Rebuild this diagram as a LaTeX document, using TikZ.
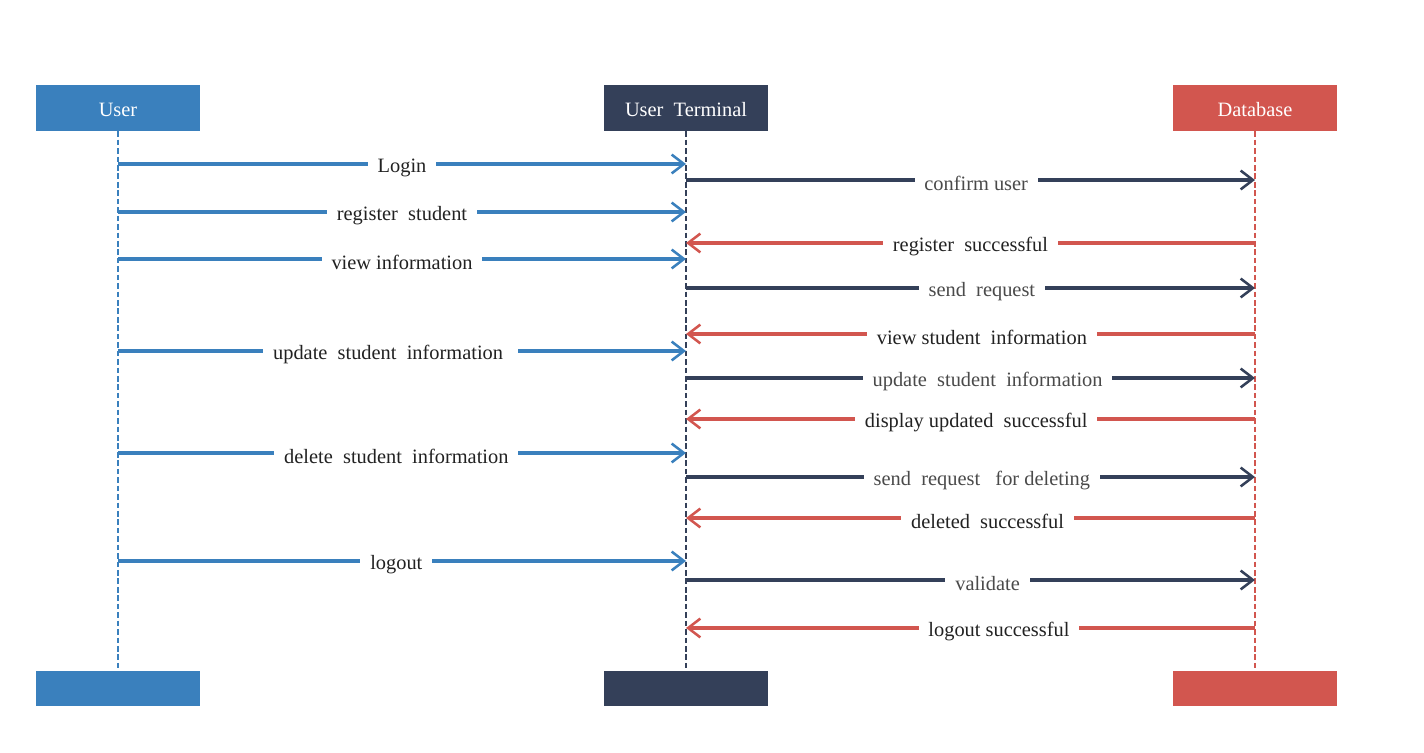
\documentclass[tikz,border=0pt]{standalone}
\usepackage{fontspec}
\setmainfont{Liberation Serif}
\usetikzlibrary{arrows.meta, positioning}
\definecolor{sqblue}{HTML}{3A80BD}
\definecolor{sqdark}{HTML}{344059}
\definecolor{sqred}{HTML}{D2564F}
\definecolor{sqtext}{HTML}{222222}
\definecolor{sqgrey}{HTML}{4A4A4A}
\tikzset{
  actor/.style={minimum width=4.1cm, minimum height=1.15cm, inner sep=0pt, text=white, font=\fontsize{14.5}{16}\selectfont},
  foot/.style={minimum width=4.1cm, minimum height=0.875cm, inner sep=0pt},
  life/.style={dashed, dash pattern=on 4pt off 2pt, line width=1.5pt},
  msg/.style={line width=2.3pt, -{Straight Barb[angle=75:11pt, line width=1.8pt]}},
  lbl/.style={fill=white, inner xsep=7pt, inner ysep=1pt, yshift=-2.5pt, text=sqtext, font=\fontsize{14.5}{16}\selectfont},
  glbl/.style={lbl, text=sqgrey}
}
\newcommand{\headtxt}[1]{\smash{\raisebox{-6pt}{#1}}}
\begin{document}
\begin{tikzpicture}[x=0.025cm, y=-0.025cm]
  \useasboundingbox (0,0) rectangle (1424,753);
  % heads
  \node[actor, fill=sqblue] (user) at (118,108) {\headtxt{User}};
  \node[actor, fill=sqdark] (term) at (686,108) {\headtxt{User\ \ Terminal}};
  \node[actor, fill=sqred] (db) at (1255,108) {\headtxt{Database}};
  % feet
  \node[foot, fill=sqblue] (userF) at (118,688.5) {};
  \node[foot, fill=sqdark] (termF) at (686,688.5) {};
  \node[foot, fill=sqred] (dbF) at (1255,688.5) {};
  % lifelines
  \draw[life, sqblue] (user.south) -- (userF.north);
  \draw[life, sqdark] (term.south) -- (termF.north);
  \draw[life, sqred] (db.south) -- (dbF.north);
  % message points
  \foreach \y in {164,212,259,351,453,561} {
    \coordinate (u\y) at (118,\y);
    \coordinate (t\y) at (686,\y);
  }
  \foreach \y in {180,243,288,334,378,419,477,518,580,628} {
    \coordinate (t\y) at (686,\y);
    \coordinate (d\y) at (1255,\y);
  }
  % user -> terminal
  \draw[msg, sqblue] (u164) -- node[lbl] {Login} (t164);
  \draw[msg, sqblue] (u212) -- node[lbl] {register\ \ student\ } (t212);
  \draw[msg, sqblue] (u259) -- node[lbl] {view information} (t259);
  \draw[msg, sqblue] (u351) -- node[lbl, pos=0.48] {update\ \ student\ \ information\ \ } (t351);
  \draw[msg, sqblue] (u453) -- node[lbl, pos=0.49] {delete\ \ student\ \ information} (t453);
  \draw[msg, sqblue] (u561) -- node[lbl, pos=0.49] {logout} (t561);
  % terminal -> database
  \draw[msg, sqdark] (t180) -- node[glbl, pos=0.51] {confirm user} (d180);
  \draw[msg, sqdark] (t288) -- node[glbl, pos=0.52] {send\ \ request} (d288);
  \draw[msg, sqdark] (t378) -- node[glbl, pos=0.53] {update\ \ student\ \ information} (d378);
  \draw[msg, sqdark] (t477) -- node[glbl, pos=0.52] {send\ \ request\ \ \ for\ deleting} (d477);
  \draw[msg, sqdark] (t580) -- node[glbl, pos=0.53] {validate} (d580);
  % database -> terminal
  \draw[msg, sqred] (d243) -- node[lbl, pos=0.5] {register\ \ successful} (t243);
  \draw[msg, sqred] (d334) -- node[lbl, pos=0.48] {view student\ \ information\ } (t334);
  \draw[msg, sqred] (d419) -- node[lbl, pos=0.49] {display updated\ \ successful} (t419);
  \draw[msg, sqred] (d518) -- node[lbl, pos=0.47] {deleted\ \ successful} (t518);
  \draw[msg, sqred] (d628) -- node[lbl, pos=0.45] {logout\ successful} (t628);
\end{tikzpicture}
\end{document}
